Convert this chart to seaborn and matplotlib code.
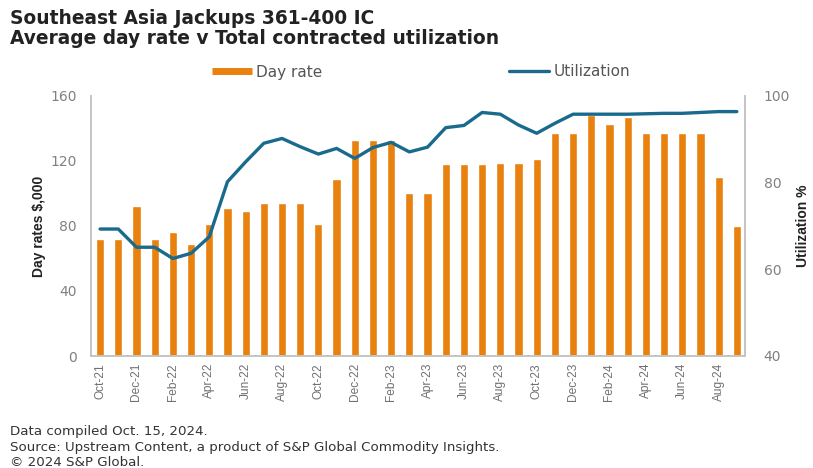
import matplotlib
matplotlib.use("Agg")
import matplotlib.pyplot as plt
from matplotlib.lines import Line2D
import seaborn as sns
import pandas as pd
import numpy as np

months = ["Oct-21", "Nov-21", "Dec-21", "Jan-22", "Feb-22", "Mar-22", "Apr-22", "May-22",
          "Jun-22", "Jul-22", "Aug-22", "Sep-22", "Oct-22", "Nov-22", "Dec-22", "Jan-23",
          "Feb-23", "Mar-23", "Apr-23", "May-23", "Jun-23", "Jul-23", "Aug-23", "Sep-23",
          "Oct-23", "Nov-23", "Dec-23", "Jan-24", "Feb-24", "Mar-24", "Apr-24", "May-24",
          "Jun-24", "Jul-24", "Aug-24", "Sep-24"]
day_rate = [72, 72, 92, 72, 76, 69, 81, 91, 89, 94, 94, 94, 81, 109, 133, 133,
            133, 100, 100, 118, 118, 118, 119, 119, 121, 137, 137, 148, 143, 147,
            137, 137, 137, 137, 110, 80]
utilization = [69.3, 69.3, 65.1, 65.1, 62.5, 63.7, 67.5, 80.2, 84.8, 89.1, 90.2, 88.3,
               86.6, 87.9, 85.6, 88.1, 89.3, 87.1, 88.2, 92.7, 93.2, 96.2, 95.8, 93.3,
               91.4, 93.7, 95.8, 95.8, 95.8, 95.8, 95.9, 96.0, 96.0, 96.2, 96.4, 96.4]
tick_labels = months[::2]

title_lines = ["Southeast Asia Jackups 361-400 IC",
               "Average day rate v Total contracted utilization"]
footer_lines = ["Data compiled Oct. 15, 2024.",
                "Source: Upstream Content, a product of S&P Global Commodity Insights.",
                "\u00a9 2024 S&P Global."]

ORANGE = "#E8810E"
BLUE = "#196A8D"
GRAY = "#808080"
SPINE = "#c4c4c4"

sns.set_theme(style="white")
plt.rcParams["font.family"] = ["DejaVu Sans"]

df = pd.DataFrame({"month": months, "idx": np.arange(len(months)),
                   "day_rate": day_rate, "utilization": utilization})

fig = plt.figure(figsize=(8.13, 4.68), dpi=100)
ax = fig.add_axes([91/813, 1 - 356/468, (745 - 91)/813, (356 - 96)/468])

sns.barplot(data=df, x="month", y="day_rate", order=months, color=ORANGE,
            saturation=1, width=0.45, ax=ax)
ax.set_ylim(0, 160)
ax.set_yticks([0, 40, 80, 120, 160])
ax.set_xlim(-0.5, 35.45)
ax.set_xticks(np.arange(0, len(months), 2))
ax.set_xticklabels(tick_labels, rotation=90, fontsize=8.6, color="#707070",
                   family=["Liberation Sans", "DejaVu Sans"])
ax.tick_params(axis="y", labelsize=10, labelcolor=GRAY, length=0, pad=10)
ax.tick_params(axis="x", length=0, pad=5)
ax.set_xlabel("")
ax.set_ylabel("Day rates $,000", fontsize=10, fontweight="bold", color="#222222",
              labelpad=3, family=["Liberation Sans", "DejaVu Sans"])

ax2 = ax.twinx()
sns.lineplot(data=df, x="idx", y="utilization", color=BLUE, linewidth=2.4, ax=ax2)
ax2.set_ylim(40, 100)
ax2.set_yticks([40, 60, 80, 100])
ax2.set_xlim(-0.5, 35.45)
ax2.tick_params(axis="y", labelsize=10, labelcolor=GRAY, length=0, pad=13.5)
ax2.set_ylabel("Utilization %", fontsize=10, fontweight="bold", color="#222222",
               labelpad=4.4, family=["Liberation Sans", "DejaVu Sans"])
ax2.set_xlabel("")

for a in (ax, ax2):
    a.spines["top"].set_visible(False)
    for side in ("left", "right", "bottom"):
        a.spines[side].set_color(SPINE)
        a.spines[side].set_linewidth(1.2)

handles = [Line2D([0], [0], color=ORANGE, lw=5, solid_capstyle="butt"),
           Line2D([0], [0], color=BLUE, lw=2.4)]
fig.legend(handles, ["Day rate", "Utilization"], loc="center", ncol=2,
           bbox_to_anchor=(421/813, 1 - 72/468), frameon=False, fontsize=11,
           handlelength=2.6, handletextpad=0.3, columnspacing=12.2,
           labelcolor="#555555")

fig.text(10/813, 1 - 18/468, title_lines[0], fontsize=13.4, fontweight="bold",
         color="#222222", va="center", ha="left")
fig.text(10/813, 1 - 39/468, title_lines[1], fontsize=13.4, fontweight="bold",
         color="#222222", va="center", ha="left")
for i, line in enumerate(footer_lines):
    fig.text(10/813, 1 - (432 + i*15)/468, line, fontsize=9.6, color="#333333",
             va="center", ha="left")

fig.savefig("out.png", dpi=100, facecolor="white")
